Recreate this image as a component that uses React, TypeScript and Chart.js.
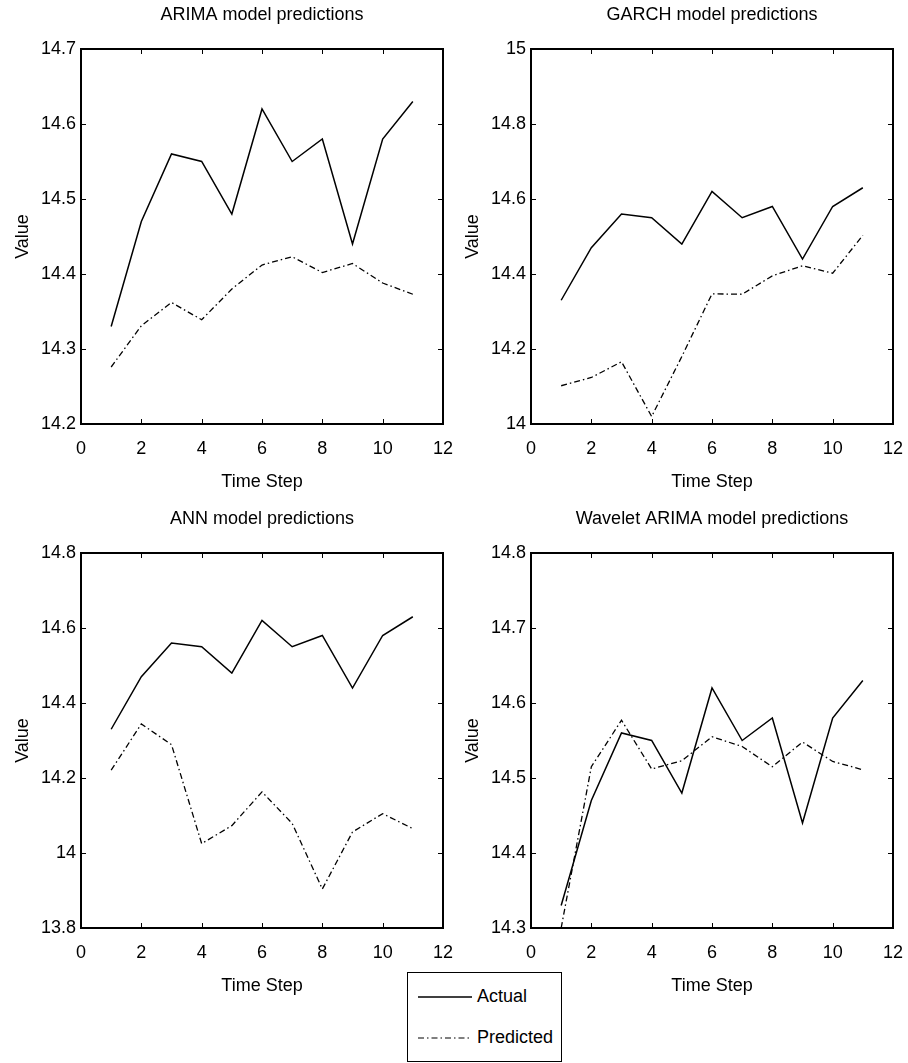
import React, { useEffect, useRef } from "react";
import { Chart, registerables } from "chart.js";

Chart.register(...registerables);

const FONT = "'Liberation Sans Narrow', 'Arial Narrow', 'Liberation Sans', Arial, sans-serif";
const FS = 18;

const timeSteps = [1, 2, 3, 4, 5, 6, 7, 8, 9, 10, 11];
const actualValues = [14.33, 14.47, 14.56, 14.55, 14.48, 14.62, 14.55, 14.58, 14.44, 14.58, 14.63];
const arimaPredicted = [14.276, 14.331, 14.362, 14.339, 14.38, 14.412, 14.423, 14.402, 14.414, 14.388, 14.373];
const garchPredicted = [14.102, 14.124, 14.166, 14.02, 14.18, 14.347, 14.346, 14.395, 14.422, 14.402, 14.503];
const annPredicted = [14.221, 14.344, 14.289, 14.025, 14.073, 14.163, 14.079, 13.904, 14.056, 14.105, 14.065];
const waveletPredicted = [14.3, 14.515, 14.577, 14.512, 14.523, 14.555, 14.542, 14.515, 14.548, 14.522, 14.511];

const panelTitles = [
  "ARIMA model predictions",
  "GARCH model predictions",
  "ANN model predictions",
  "Wavelet ARIMA model predictions",
];
const yMins = [14.2, 14, 13.8, 14.3];
const yMaxs = [14.7, 15, 14.8, 14.8];
const ySteps = [0.1, 0.2, 0.2, 0.1];
const xMin = 0;
const xMax = 12;
const xStep = 2;
const xTitle = "Time Step";
const yTitle = "Value";
const legendLabels = ["Actual", "Predicted"];

const predictedSeries = [arimaPredicted, garchPredicted, annPredicted, waveletPredicted];

const PAD_R = 30;
const CW = 443 + PAD_R;
const CH = 504;

const framePlugin = {
  id: "matlabFrame",
  afterDatasetsDraw(chart: any) {
    const { ctx, chartArea: a, scales } = chart;
    const xs = scales.x;
    const ys = scales.y;
    ctx.save();
    ctx.strokeStyle = "#000";
    ctx.lineWidth = 1;
    ctx.beginPath();
    xs.ticks.forEach((t: any) => {
      const p = Math.round(xs.getPixelForValue(t.value)) + 0.5;
      if (p <= a.left + 2 || p >= a.right - 2) return;
      ctx.moveTo(p, a.bottom);
      ctx.lineTo(p, a.bottom - 5);
      ctx.moveTo(p, a.top);
      ctx.lineTo(p, a.top + 5);
    });
    ys.ticks.forEach((t: any) => {
      const p = Math.round(ys.getPixelForValue(t.value)) + 0.5;
      if (p <= a.top + 2 || p >= a.bottom - 2) return;
      ctx.moveTo(a.left, p);
      ctx.lineTo(a.left + 5, p);
      ctx.moveTo(a.right, p);
      ctx.lineTo(a.right - 5, p);
    });
    ctx.stroke();
    ctx.lineWidth = 2;
    ctx.strokeRect(a.left, a.top, a.right - a.left, a.bottom - a.top);
    ctx.restore();
  },
};

function Panel(props: { idx: number; left: number; top: number }) {
  const { idx, left, top } = props;
  const ref = useRef<HTMLCanvasElement>(null);
  useEffect(() => {
    const fmt = (v: any) => String(Number(Number(v).toFixed(2)));
    const titlePlugin = {
      id: "panelTitle",
      afterDraw(chart: any) {
        const { ctx, chartArea: a } = chart;
        ctx.save();
        ctx.fillStyle = "#000";
        ctx.font = `${FS}px ${FONT}`;
        ctx.textAlign = "center";
        ctx.textBaseline = "middle";
        ctx.fillText(panelTitles[idx], (a.left + a.right) / 2, 15);
        ctx.restore();
      },
    };
    const chart = new Chart(ref.current as HTMLCanvasElement, {
      type: "line",
      data: {
        datasets: [
          {
            label: legendLabels[0],
            data: timeSteps.map((x, i) => ({ x, y: actualValues[i] })),
            borderColor: "#000",
            borderWidth: 1.5,
            pointRadius: 0,
            tension: 0,
            fill: false,
          },
          {
            label: legendLabels[1],
            data: timeSteps.map((x, i) => ({ x, y: predictedSeries[idx][i] })),
            borderColor: "#000",
            borderWidth: 1.3,
            borderDash: [6, 3, 1.5, 3],
            pointRadius: 0,
            tension: 0,
            fill: false,
          },
        ],
      },
      options: {
        responsive: false,
        animation: false,
        devicePixelRatio: 1,
        layout: { padding: { left: 0, right: PAD_R, top: 49, bottom: 10 } },
        plugins: {
          legend: { display: false },
          tooltip: { enabled: false },
          title: { display: false },
        },
        scales: {
          x: {
            type: "linear",
            min: xMin,
            max: xMax,
            grid: { display: false, drawTicks: false },
            border: { display: false },
            ticks: {
              stepSize: xStep,
              padding: 14,
              color: "#000",
              maxRotation: 0,
              font: { family: FONT, size: FS },
              callback: fmt,
            },
            title: {
              display: true,
              text: xTitle,
              color: "#000",
              font: { family: FONT, size: FS },
              padding: { top: 0, bottom: 1.5 },
            },
            afterFit: (s: any) => {
              s.height = 70;
            },
          },
          y: {
            type: "linear",
            min: yMins[idx],
            max: yMaxs[idx],
            grid: { display: false, drawTicks: false },
            border: { display: false },
            ticks: {
              stepSize: ySteps[idx],
              padding: 5,
              color: "#000",
              font: { family: FONT, size: FS },
              callback: fmt,
            },
            title: {
              display: true,
              text: yTitle,
              color: "#000",
              font: { family: FONT, size: FS },
              padding: { top: 12, bottom: 0 },
            },
            afterFit: (s: any) => {
              s.width = 81;
            },
          },
        },
      } as any,
      plugins: [framePlugin, titlePlugin],
    });
    return () => chart.destroy();
  }, [idx]);
  return (
    <canvas
      ref={ref}
      width={CW}
      height={CH}
      style={{ position: "absolute", left, top, width: CW, height: CH }}
    />
  );
}

function Legend() {
  const rowStyle: React.CSSProperties = {
    position: "absolute",
    left: 69,
    fontFamily: FONT,
    fontSize: FS,
    lineHeight: "22px",
    color: "#000",
    whiteSpace: "nowrap",
  };
  return (
    <div
      style={{
        position: "absolute",
        left: 407,
        top: 972,
        width: 155,
        height: 90,
        boxSizing: "border-box",
        border: "1.5px solid #000",
        background: "#fff",
      }}
    >
      <svg width={155} height={90} style={{ position: "absolute", left: -1.5, top: -1.5 }}>
        <line x1={11} y1={25} x2={65} y2={25} stroke="#000" strokeWidth={1.6} />
        <line x1={11} y1={66} x2={65} y2={66} stroke="#000" strokeWidth={1.2} strokeDasharray="6 3 1.5 3" />
      </svg>
      <span style={{ ...rowStyle, top: 12 }}>{legendLabels[0]}</span>
      <span style={{ ...rowStyle, top: 53 }}>{legendLabels[1]}</span>
    </div>
  );
}

export default function App() {
  return (
    <div
      style={{
        position: "absolute",
        left: 0,
        top: 0,
        width: 908,
        height: 1063,
        background: "#fff",
        overflow: "hidden",
      }}
    >
      <Panel idx={0} left={0} top={0} />
      <Panel idx={1} left={450} top={0} />
      <Panel idx={2} left={0} top={504} />
      <Panel idx={3} left={450} top={504} />
      <Legend />
    </div>
  );
}
